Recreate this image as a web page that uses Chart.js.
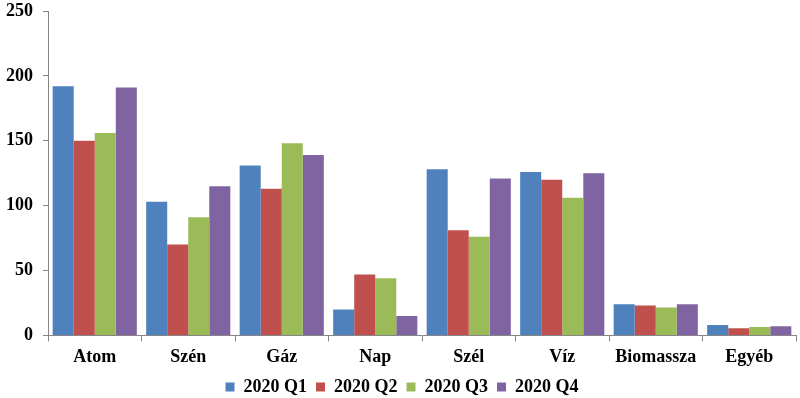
<!DOCTYPE html>
<html>
<head>
<meta charset="utf-8">
<script src="https://cdn.jsdelivr.net/npm/chart.js@4/dist/chart.umd.min.js"></script>
<style>
  html, body { margin: 0; padding: 0; background: #fff; }
  #wrap { width: 800px; height: 398px; }
</style>
</head>
<body>
<div id="wrap"><canvas id="myChart"></canvas></div>
<script>
const categories = ['Atom', 'Szén', 'Gáz', 'Nap', 'Szél', 'Víz', 'Biomassza', 'Egyéb'];
const seriesNames = ['2020 Q1', '2020 Q2', '2020 Q3', '2020 Q4'];
const q1 = [192, 103, 131, 20, 128, 126, 24, 8];
const q2 = [150, 70, 113, 47, 81, 120, 23, 5.5];
const q3 = [156, 91, 148, 44, 76, 106, 21.5, 6.5];
const q4 = [191, 115, 139, 15, 121, 125, 24, 7];
const yTicks = [0, 50, 100, 150, 200, 250];

const colors = ['#4F81BD', '#C0504D', '#9BBB59', '#8064A2'];
const font = '"Liberation Serif", serif';

// legend sits closer to the axis labels than Chart.js would put it
const legendShift = {
  id: 'legendShift',
  beforeInit(chart) {
    const fit = chart.legend.fit;
    chart.legend.fit = function () {
      fit.call(this);
      this.height -= 12;
    };
  },
  afterLayout(chart) {
    chart.legend.top -= 4;
    chart.legend.left += 4;
    chart.legend.right += 4;
  },
};

const chart = new Chart(document.getElementById('myChart'), {
  type: 'bar',
  data: {
    labels: categories,
    datasets: [q1, q2, q3, q4].map((d, i) => ({
      label: seriesNames[i],
      data: d,
      backgroundColor: colors[i],
      borderWidth: 0,
      categoryPercentage: 0.9,
      barPercentage: 1.0,
    })),
  },
  options: {
    responsive: true,
    maintainAspectRatio: false,
    animation: false,
    layout: { padding: { top: 0, right: 4, left: 0, bottom: 0 } },
    plugins: {
      tooltip: { enabled: false },
      legend: {
        position: 'bottom',
        labels: {
          color: '#000',
          font: { family: font, size: 18, weight: 'bold' },
          boxWidth: 9,
          boxHeight: 9,
          padding: 9,
        },
      },
    },
    scales: {
      x: {
        grid: { display: true, drawOnChartArea: false, offset: true, tickLength: 6, color: '#868686' },
        border: { color: '#868686' },
        ticks: { color: '#000', font: { family: font, size: 18, weight: 'bold' }, padding: 5 },
      },
      y: {
        min: 0,
        max: 250,
        afterBuildTicks: (axis) => { axis.ticks = yTicks.map(v => ({ value: v })); },
        afterFit: (axis) => {
          axis.width = 48;
          axis.paddingTop = 11;
        },
        grid: { display: true, drawOnChartArea: false, tickLength: 5, color: '#868686' },
        border: { color: '#868686' },
        ticks: { color: '#000', font: { family: font, size: 18, weight: 'bold' }, padding: 10 },
      },
    },
  },
  plugins: [legendShift],
});
</script>
</body>
</html>
